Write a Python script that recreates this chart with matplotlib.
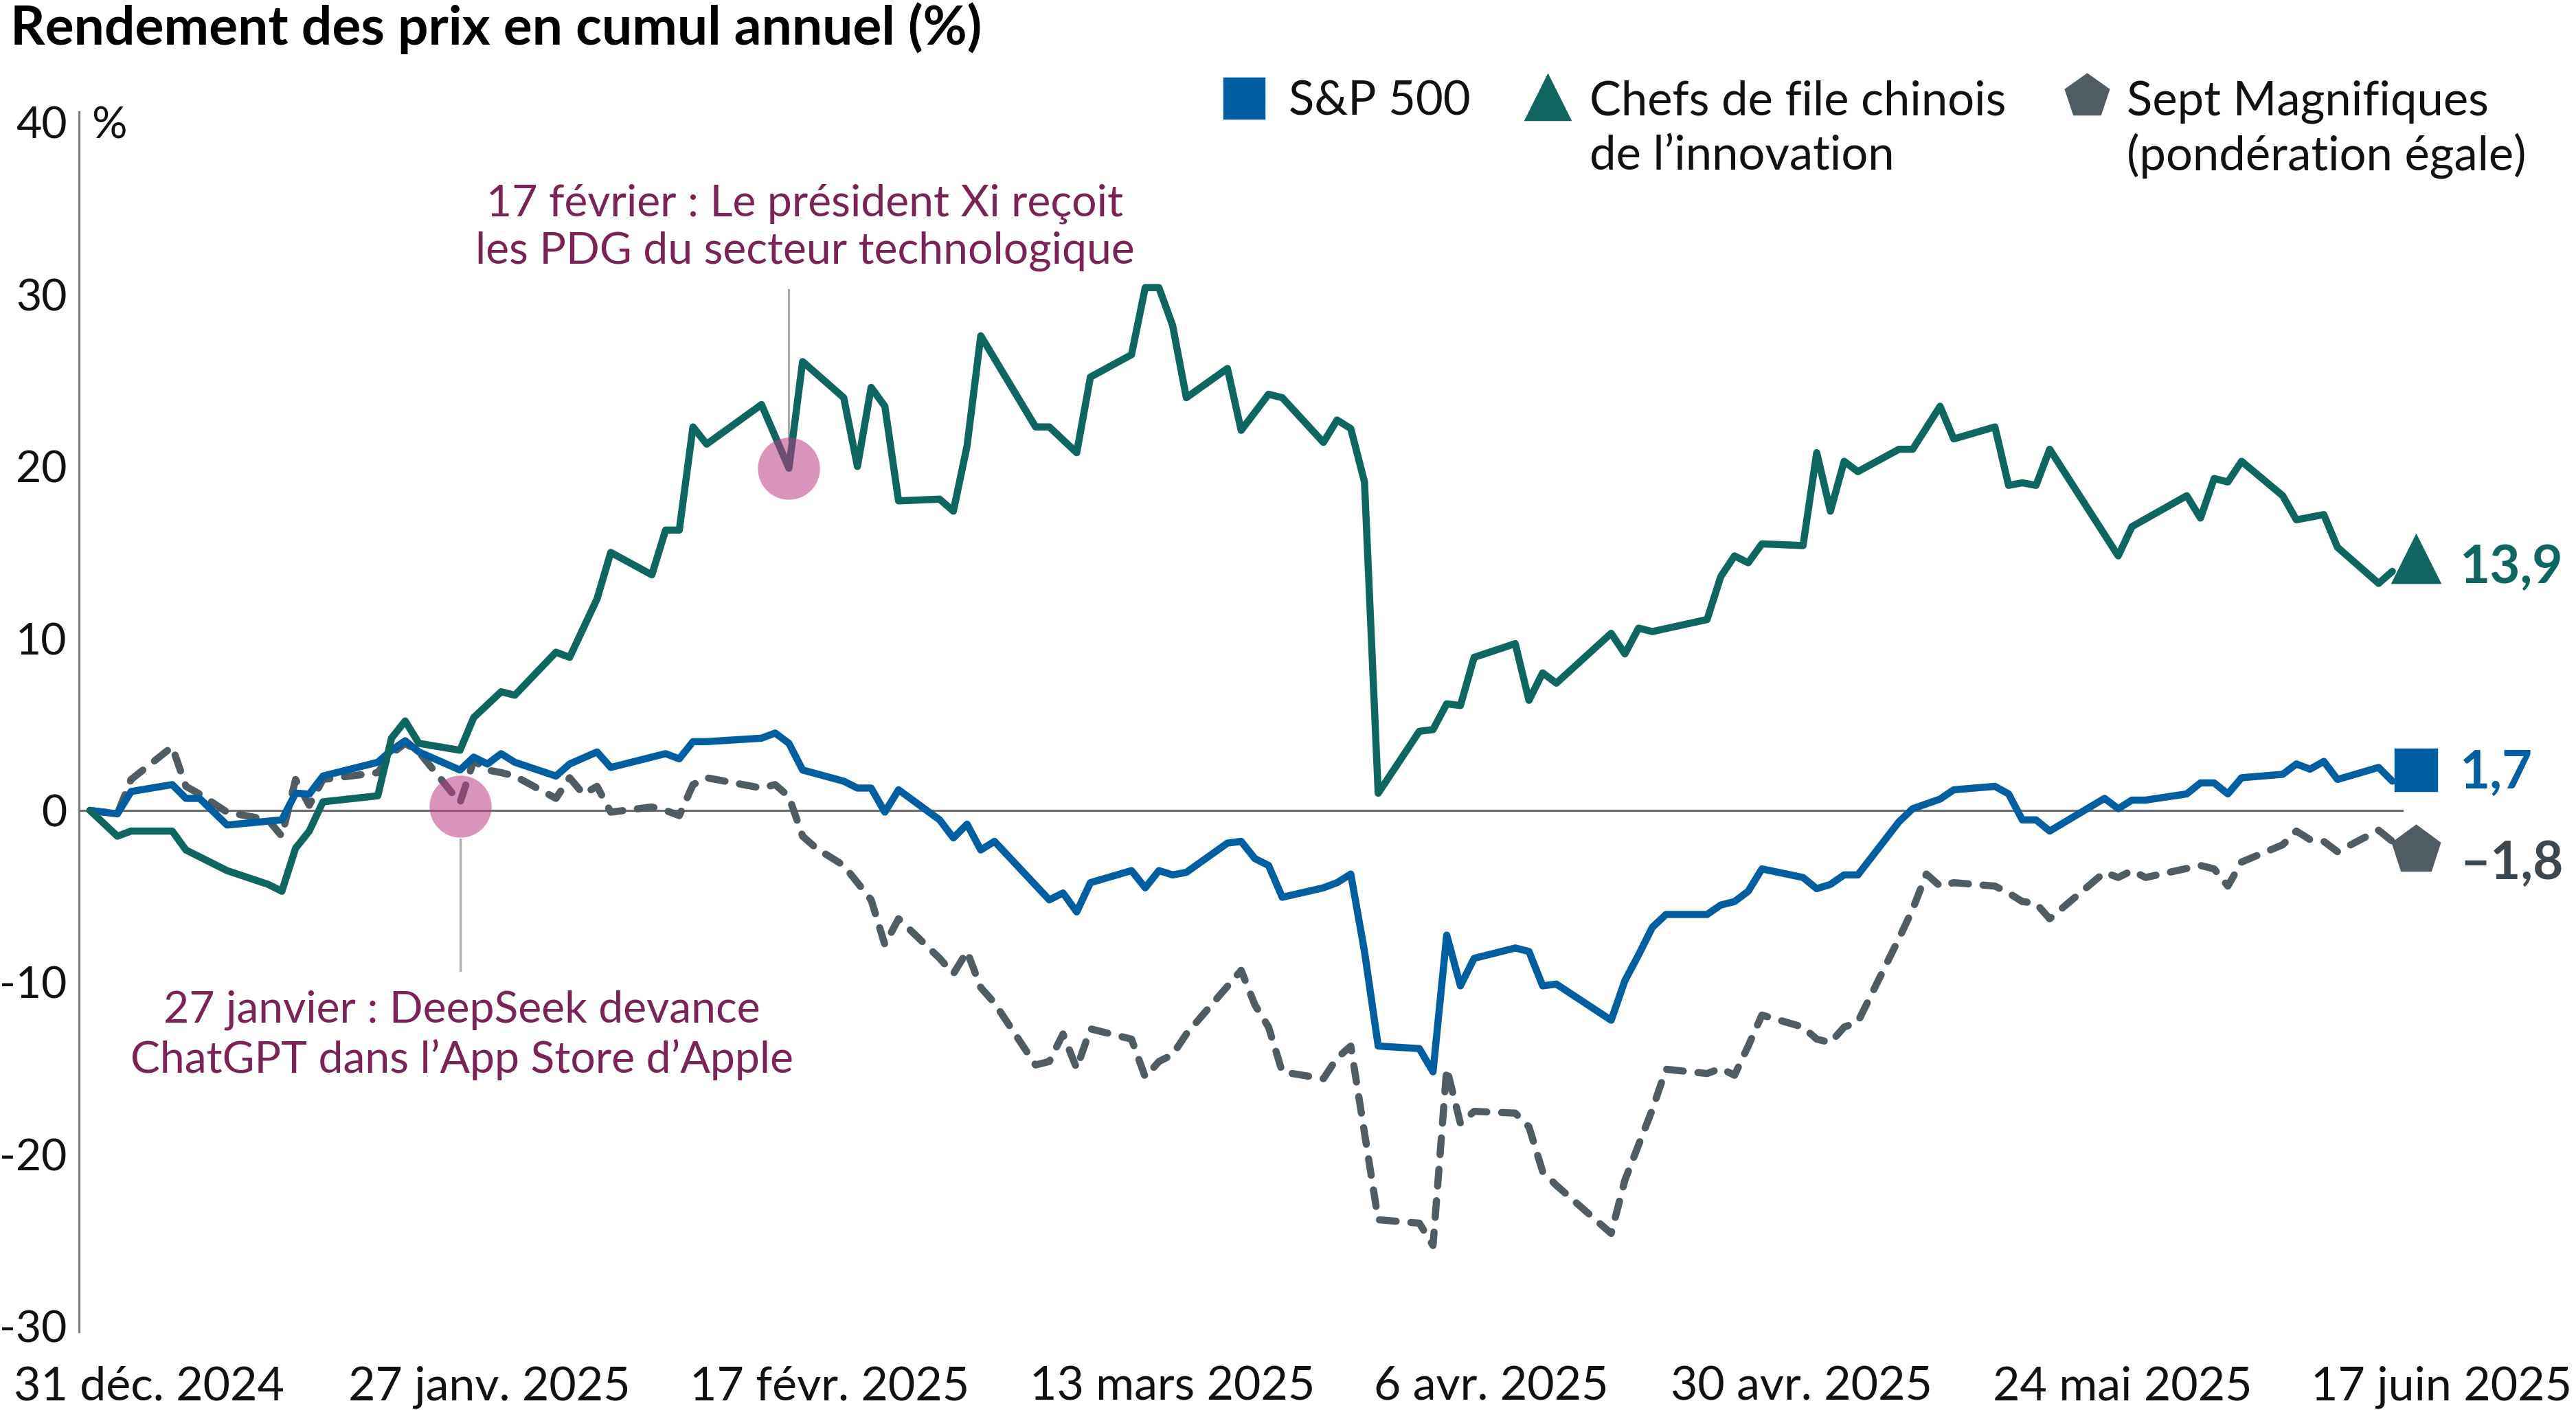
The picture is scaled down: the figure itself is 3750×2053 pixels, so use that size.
import matplotlib
matplotlib.use("Agg")
import matplotlib.pyplot as plt
from matplotlib.lines import Line2D

# ------------------------------------------------------------------ data
title = "Rendement des prix en cumul annuel (%)"
legend_labels = ["S&P 500", "Chefs de file chinois\nde l\u2019innovation",
                 "Sept Magnifiques\n(pond\u00e9ration \u00e9gale)"]
end_labels = ["1,7", "13,9", "\u20131,8"]
x_tick_labels = ["31 d\u00e9c. 2024", "27 janv. 2025", "17 f\u00e9vr. 2025", "13 mars 2025",
                 "6 avr. 2025", "30 avr. 2025", "24 mai 2025", "17 juin 2025"]
y_ticks = [-30, -20, -10, 0, 10, 20, 30, 40]
y_tick_labels = ["-30", "-20", "-10", "0", "10", "20", "30", "40"]

# x = calendar days since 31 Dec 2024, y = YTD price return (%)
cn_days = [0, 2, 3, 6, 7, 8, 9, 10, 13, 14, 15, 16, 17, 21, 22, 23, 24, 27, 28, 30,
           31, 34, 35, 36, 37, 38, 41, 42, 43, 44, 45, 49, 51, 52, 55, 56, 57, 58, 59, 62,
           63, 64, 65, 69, 70, 72, 73, 76, 77, 78, 79, 80, 83, 84, 86, 87, 90, 91, 92, 93,
           94, 97, 98, 99, 100, 101, 104, 105, 106, 107, 111, 112, 113, 114, 118, 119, 120, 121, 122, 125,
           126, 127, 128, 129, 132, 133, 135, 136, 139, 140, 141, 142, 143, 148, 149, 153, 154, 155, 156, 157,
           160, 161, 163, 164, 167, 168]
cn_vals = [0, -1.5, -1.2, -1.2, -2.3, -2.7, -3.1, -3.5, -4.3, -4.7, -2.2, -1.2, 0.5, 0.85, 4.2, 5.2, 3.9, 3.5, 5.4, 6.9,
           6.7, 9.2, 8.9, 10.6, 12.3, 15.0, 13.7, 16.3, 16.3, 22.3, 21.3, 23.6, 19.9, 26.1, 24.0, 20.0, 24.6, 23.5, 18.0, 18.1,
           17.4, 21.2, 27.6, 22.3, 22.3, 20.8, 25.2, 26.5, 30.4, 30.4, 28.2, 24.0, 25.7, 22.1, 24.2, 24.0, 21.4, 22.7, 22.2, 19.1,
           1.0, 4.6, 4.7, 6.2, 6.1, 8.9, 9.7, 6.4, 8.0, 7.4, 10.3, 9.1, 10.6, 10.4, 11.1, 13.6, 14.8, 14.4, 15.5, 15.4,
           20.8, 17.4, 20.3, 19.7, 21.0, 21.0, 23.5, 21.6, 22.3, 18.9, 19.05, 18.9, 21.0, 14.8, 16.5, 18.3, 17.0, 19.3, 19.1, 20.3,
           18.3, 16.9, 17.2, 15.3, 13.2, 13.9]

sp_days = [0, 2, 3, 6, 7, 8, 10, 14, 15, 16, 17, 21, 22, 23, 24, 27, 28, 29, 30, 31,
           34, 35, 37, 38, 41, 42, 43, 44, 45, 49, 50, 51, 52, 55, 56, 57, 58, 59, 62, 63,
           64, 65, 66, 70, 71, 72, 73, 76, 77, 78, 79, 80, 83, 84, 85, 86, 87, 90, 91, 92,
           93, 94, 97, 98, 99, 100, 101, 104, 105, 106, 107, 111, 112, 113, 114, 115, 118, 119, 120, 121,
           122, 125, 126, 127, 128, 129, 132, 133, 135, 136, 139, 140, 141, 142, 143, 147, 148, 149, 150, 153,
           154, 155, 156, 157, 160, 161, 162, 163, 164, 167, 168]
sp_vals = [0, -0.2, 1.1, 1.5, 0.7, 0.7, -0.85, -0.55, 1.0, 0.95, 2.0, 2.8, 3.5, 4.05, 3.4, 2.35, 3.1, 2.7, 3.3, 2.8,
           2.0, 2.7, 3.4, 2.5, 3.1, 3.3, 3.0, 4.0, 4.0, 4.2, 4.5, 3.9, 2.35, 1.7, 1.3, 1.3, -0.1, 1.2, -0.55, -1.6,
           -0.8, -2.3, -1.8, -5.2, -4.8, -5.9, -4.2, -3.5, -4.5, -3.5, -3.75, -3.6, -1.9, -1.8, -2.8, -3.2, -5.05, -4.5, -4.2, -3.7,
           -8.2, -13.7, -13.85, -15.2, -7.25, -10.2, -8.6, -8.0, -8.2, -10.2, -10.1, -12.2, -9.9, -8.4, -6.8, -6.05, -6.05, -5.5, -5.3, -4.7,
           -3.4, -3.9, -4.55, -4.3, -3.75, -3.75, -0.66, 0.1, 0.66, 1.2, 1.4, 0.96, -0.55, -0.55, -1.2, 0.7, 0.1, 0.6, 0.6, 0.96,
           1.6, 1.6, 0.96, 1.9, 2.1, 2.7, 2.4, 2.85, 1.8, 2.5, 1.7]

m7_days = [0, 2, 3, 6, 7, 8, 10, 13, 14, 15, 16, 17, 21, 22, 23, 24, 27, 28, 29, 30,
           31, 34, 35, 36, 37, 38, 41, 42, 43, 44, 45, 49, 50, 51, 52, 53, 55, 56, 57, 58,
           59, 62, 63, 64, 65, 66, 69, 70, 71, 72, 73, 76, 77, 78, 79, 80, 84, 85, 86, 87,
           90, 91, 92, 94, 97, 98, 99, 100, 101, 104, 105, 106, 107, 111, 112, 114, 115, 118, 119, 120,
           121, 122, 125, 126, 127, 128, 129, 132, 133, 134, 135, 136, 139, 140, 141, 142, 143, 147, 148, 149,
           150, 154, 155, 156, 157, 160, 161, 162, 163, 164, 167, 168]
m7_vals = [0, -0.2, 1.8, 3.7, 1.4, 0.95, -0.1, -0.55, -1.5, 1.8, 0.3, 1.8, 2.2, 3.3, 3.9, 3.4, 0.45, 2.9, 2.35, 2.2,
           2.0, 0.7, 1.9, 0.95, 1.4, -0.1, 0.2, 0.0, -0.3, 1.5, 1.9, 1.3, 1.5, 0.8, -1.5, -2.2, -3.2, -4.2, -5.2, -7.8,
           -6.3, -8.6, -9.5, -8.2, -10.3, -11.2, -14.8, -14.6, -13.0, -15.0, -12.7, -13.3, -15.5, -14.6, -14.2, -13.0, -9.3, -11.3, -12.6, -15.2,
           -15.6, -14.4, -13.7, -23.8, -24.0, -25.3, -15.0, -18.2, -17.5, -17.6, -18.4, -21.0, -21.8, -24.6, -21.5, -17.4, -15.05, -15.3, -15.0, -15.4,
           -13.7, -11.9, -12.6, -13.3, -13.5, -12.6, -12.3, -7.45, -5.75, -3.7, -4.4, -4.2, -4.4, -4.8, -5.3, -5.4, -6.3, -3.6, -3.9, -3.5,
           -3.9, -3.2, -3.4, -4.4, -3.0, -2.0, -1.2, -1.7, -1.8, -2.4, -1.15, -1.8]

event_days = [27, 51]
event_vals = [0.25, 19.9]
event_texts = [["27 janvier : DeepSeek devance", "ChatGPT dans l\u2019App Store d\u2019Apple"],
               ["17 f\u00e9vrier : Le pr\u00e9sident Xi re\u00e7oit", "les PDG du secteur technologique"]]

assert len(cn_days) == len(cn_vals)
assert len(sp_days) == len(sp_vals)
assert len(m7_days) == len(m7_vals)

# ------------------------------------------------------------------ style
plt.rcParams["font.family"] = ["Lato", "DejaVu Sans"]
plt.rcParams["lines.scale_dashes"] = False

C_GREEN = "#0f6661"
C_BLUE = "#005fa0"
C_GRAY = "#4f5c64"
C_GRAY_TXT = "#3d474f"
C_MAROON = "#7b2356"
C_AXIS = "#7a7a7a"

W, H, DPI = 3750, 2053, 250
fig = plt.figure(figsize=(W / DPI, H / DPI), dpi=DPI)

# axes geometry (pixel based)
x0_px, px_per_day = 131.0, 19.95
y0_px, px_per_unit = 1180.0, 25.04
ax_left_px, ax_right_px = 115.0, 3750.0
ymin, ymax = -32.0, 42.0
top_px = y0_px - ymax * px_per_unit
bot_px = y0_px - ymin * px_per_unit
ax_h_px = bot_px - top_px
ax = fig.add_axes([ax_left_px / W, (H - bot_px) / H,
                   (ax_right_px - ax_left_px) / W, ax_h_px / H])

def dx(px):
    return (px - x0_px) / px_per_day

for s in ["top", "right", "bottom"]:
    ax.spines[s].set_visible(False)
ax.spines["left"].set_color(C_AXIS)
ax.spines["left"].set_linewidth(0.9)
ax.spines["left"].set_bounds(-30.3, 40.6)

# y ticks
ax.set_yticks(y_ticks)
ax.set_yticklabels(y_tick_labels)
ax.tick_params(axis="y", length=0, pad=5.0, labelsize=18.5, labelcolor="#111111")

# x labels (drawn as text so the edge labels can sit outside the data range)
ax.set_xticks([])
ax.set_xlim(dx(ax_left_px), dx(ax_right_px))
ax.set_ylim(ymin, ymax)
xt_pos = [dx(20), dx(712), dx(1208), dx(1707), dx(2171), dx(2622), dx(3090), dx(3744)]
xt_ha = ["left", "center", "center", "center", "center", "center", "center", "right"]
for xp, lab, ha in zip(xt_pos, x_tick_labels, xt_ha):
    ax.text(xp, -7.0 / ax_h_px, lab, transform=ax.get_xaxis_transform(), ha=ha, va="top",
            fontsize=19.6, color="#111111", clip_on=False)

ax.text(dx(133), 40, "%", ha="left", va="center_baseline", fontsize=18.5, color="#111111")

# zero line
ax.plot([dx(ax_left_px), dx(3497)], [0, 0], color="#6d6d6d", lw=0.9, zorder=1)

# series
lw = 3.0
ax.plot(m7_days, m7_vals, color=C_GRAY, lw=lw, dashes=(7.0, 6.2),
        dash_capstyle="round", dash_joinstyle="round", zorder=3)
ax.plot(sp_days, sp_vals, color=C_BLUE, lw=lw, solid_joinstyle="round",
        solid_capstyle="round", zorder=4)
ax.plot(cn_days, cn_vals, color=C_GREEN, lw=lw, solid_joinstyle="round",
        solid_capstyle="round", zorder=5)

# end markers and labels
xm = dx(3517)
xlab = dx(3581)
ax.plot([xm], [sp_vals[-1] + 0.65], marker="s", ms=17.2, color=C_BLUE, ls="none", zorder=6)
ax.plot([xm], [cn_vals[-1] + 0.7], marker="^", ms=19.5, color=C_GREEN, ls="none", zorder=6)
ax.plot([xm], [m7_vals[-1] - 0.5], marker="p", ms=20.5, color=C_GRAY, ls="none", zorder=6)
ax.text(xlab, cn_vals[-1] - 0.7, end_labels[1], color=C_GREEN, fontsize=22,
        fontweight="bold", va="baseline", ha="left")
ax.text(xlab, sp_vals[-1] - 0.42, end_labels[0], color=C_BLUE, fontsize=22,
        fontweight="bold", va="baseline", ha="left")
ax.text(xlab, m7_vals[-1] - 2.2, end_labels[2], color=C_GRAY_TXT, fontsize=22,
        fontweight="bold", va="baseline", ha="left")

# event annotations
ev_line_px = [(1222, 1413), (422, 640)]
ev_text_x_px = [672, 1172]
ev_text_y_px = [(1471, 1543), (297, 366)]
for i in range(2):
    ax.plot([event_days[i]], [event_vals[i]], marker="o", ms=26, color="#ba3c85",
            alpha=0.55, mec="none", ls="none", zorder=7)
    y_a = (y0_px - ev_line_px[i][0]) / px_per_unit
    y_b = (y0_px - ev_line_px[i][1]) / px_per_unit
    ax.plot([event_days[i], event_days[i]], [y_a, y_b], color="#aaaaaa", lw=0.9, zorder=2)
    for j, line in enumerate(event_texts[i]):
        ax.text(dx(ev_text_x_px[i]), (y0_px - ev_text_y_px[i][j]) / px_per_unit, line,
                ha="center", va="center", fontsize=18.5, color=C_MAROON)

# title
fig.text(15 / W, 1 - 65 / H, title, fontsize=22.6, fontweight="bold",
         ha="left", va="baseline", color="#000000")

# legend (manual)
def fx(px):
    return px / W

def fy(px):
    return 1 - px / H

leg_markers = [("s", 16.8, C_BLUE, 1811, 143), ("^", 18.5, C_GREEN, 2253, 142),
               ("p", 18.5, C_GRAY, 3038, 140)]
leg_text_x = [1876, 2314, 3096]
for (mk, ms, col, mx, my), tx, lab in zip(leg_markers, leg_text_x, legend_labels):
    fig.add_artist(Line2D([fx(mx)], [fy(my)], marker=mk, ms=ms, color=col, ls="none",
                          transform=fig.transFigure))
    for j, part in enumerate(lab.split("\n")):
        fig.text(fx(tx), fy(167 + 80 * j), part, fontsize=19.8, ha="left",
                 va="baseline", color="#111111")

fig.savefig("out.png", dpi=DPI)
